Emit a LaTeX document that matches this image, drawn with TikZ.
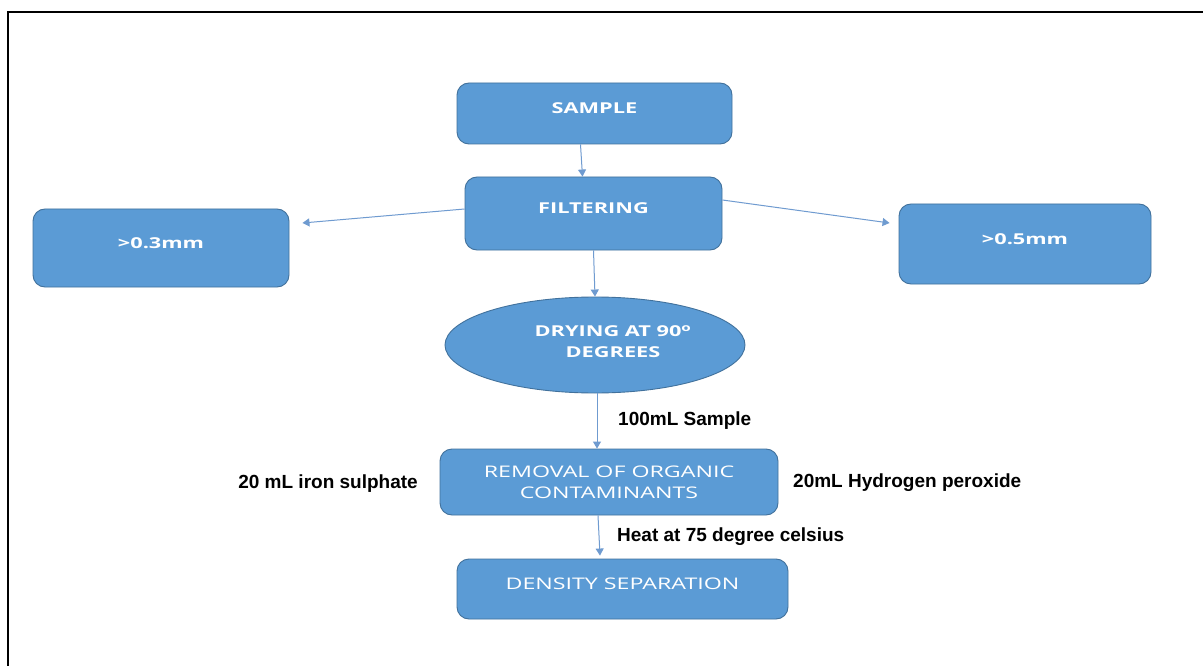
\documentclass[tikz,border=0pt]{standalone}
\usepackage{fontspec}
\setmainfont{Liberation Sans}
\newfontfamily\boxfont[FakeStretch=1.45]{Open Sans}
\usetikzlibrary{arrows.meta,shapes.geometric,calc}
\definecolor{boxblue}{HTML}{5B9BD5}
\definecolor{boxedge}{HTML}{41719C}
\definecolor{arrowblue}{HTML}{6F9BD0}
\begin{document}
\begin{tikzpicture}[x=1pt,y=-1pt,
  box/.style={draw=boxedge, line width=0.9pt, fill=boxblue, rounded corners=12pt,
    inner sep=0pt, text=white, text height=8pt, text depth=8pt},
  boldtxt/.style={font=\boxfont\bfseries\fontsize{15}{17}\selectfont},
  lighttxt/.style={font=\boxfont\fontsize{16}{21}\selectfont},
  oval/.style={ellipse, draw=boxedge, line width=0.9pt, fill=boxblue, inner sep=0pt},
  ovaltext/.style={text=white, align=center, font=\boxfont\bfseries\fontsize{15}{21}\selectfont},
  lbl/.style={font=\bfseries\fontsize{19}{21}\selectfont, text=black, inner sep=0pt},
  arr/.style={draw=arrowblue, line width=1pt, -{Triangle[length=7pt,width=8pt]}}
]
\useasboundingbox (0,0) rectangle (1203,666);
\fill[white] (0,0) rectangle (1203,666);
\draw[line width=2.2pt] (8,666) -- (8,12) -- (1203,12);

\node[box, boldtxt, minimum width=275pt, minimum height=61pt] (sample) at (594.5,113.5) {SAMPLE};
\node[box, boldtxt, minimum width=257pt, minimum height=73pt] (filter) at (593.5,213.5) {FILTERING};
\node[box, boldtxt, minimum width=256pt, minimum height=78pt] (small03) at (161,248) {>0.3mm};
\node[box, boldtxt, minimum width=252pt, minimum height=80pt] (small05) at (1025,244) {>0.5mm};
\node[oval, minimum width=300pt, minimum height=96pt] (dry) at (595,345) {};
\node[ovaltext] (drytext) at (613,342) {DRYING AT 90\textsuperscript{o}\\DEGREES};
\node[box, lighttxt, align=center, text height=, text depth=, minimum width=338pt, minimum height=66pt] (removal) at (609,482) {REMOVAL OF ORGANIC\\CONTAMINANTS};
\node[box, lighttxt, minimum width=331pt, minimum height=60pt] (density) at (622.5,589) {DENSITY SEPARATION};

\node[lbl, anchor=base west] (l100) at (618,425) {100mL Sample};
\node[lbl, anchor=base east] (liron) at (418,488) {20 mL iron sulphate};
\node[lbl, anchor=base west] (lperox) at (793,487) {20mL Hydrogen peroxide};
\node[lbl, anchor=base west] (lheat) at (617,541) {Heat at 75 degree celsius};

\draw[arr] ($(sample.south)+(-14,0)$) -- ($(filter.north)+(-11,0)$);
\draw[arr] ($(filter.west)+(0,-4.5)$) -- ($(small03.east)+(13,-25)$);
\draw[arr] ($(filter.east)+(0,-13.5)$) -- ($(small05.west)+(-9,-21)$);
\draw[arr] (filter.south) -- (dry.north);
\draw[arr] ($(dry.south)+(2,0)$) -- ($(removal.north)+(-12,0)$);
\draw[arr] ($(removal.south)+(-11,0)$) -- ($(density.north)+(-22.5,-3)$);
\end{tikzpicture}
\end{document}
